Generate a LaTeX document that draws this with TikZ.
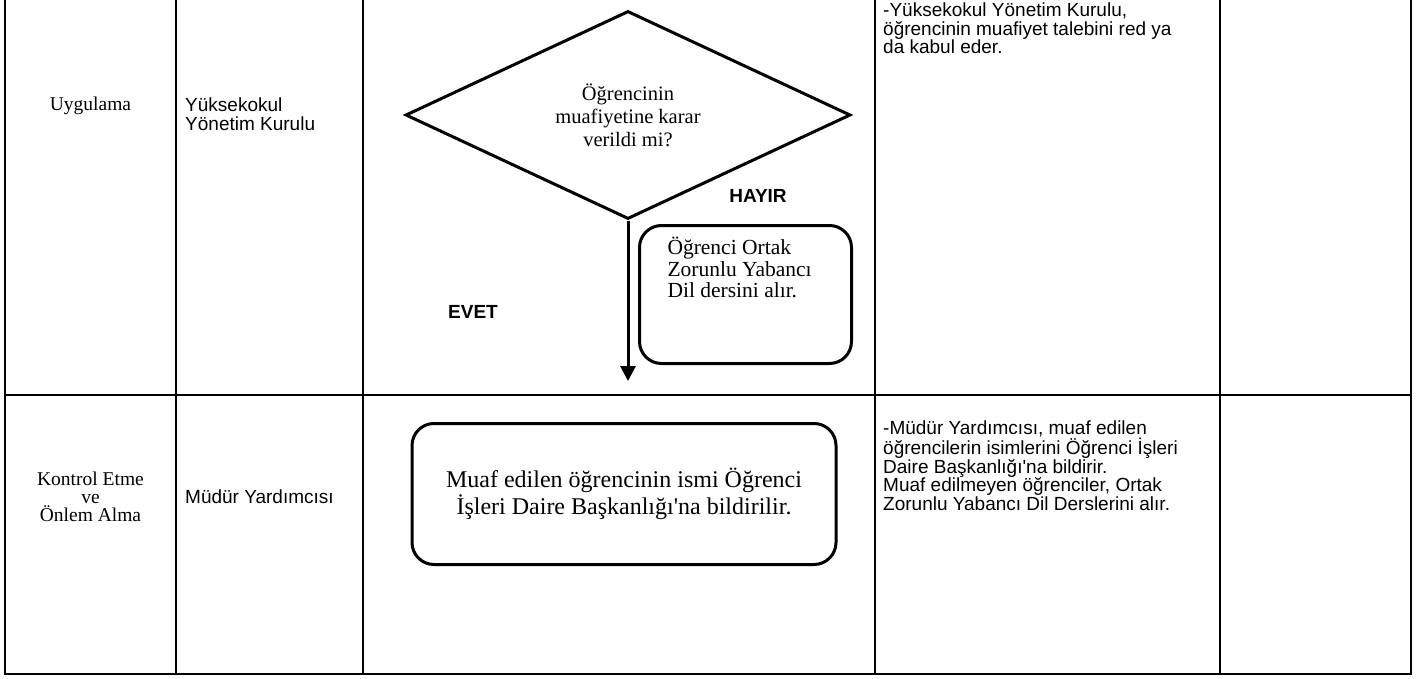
\documentclass[tikz,border=0pt]{standalone}
\usepackage{fontspec}
\setmainfont{Liberation Serif}[Ligatures=TeXOff]
\setsansfont{Liberation Sans}[Ligatures=TeXOff]
\usetikzlibrary{shapes.geometric,arrows.meta}

\tikzset{
  soru/.style={shape=diamond, draw, line width=3pt, minimum width=445pt, minimum height=200pt,
    inner sep=0pt, align=center, font=\fontsize{20.5}{23}\selectfont},
  islem/.style={shape=rectangle, draw, line width=3pt, rounded corners=22pt},
  hucre/.style={inner sep=0pt, align=left, font=\sffamily\fontsize{19}{18.5}\selectfont},
  asama/.style={inner sep=0pt, align=center, font=\fontsize{19.5}{18}\selectfont},
  etiket/.style={inner sep=0pt, font=\sffamily\bfseries\fontsize{19}{20}\selectfont},
  akis/.style={line width=3pt, -{Triangle[width=15pt,length=15pt]}},
}

\begin{document}
\begin{tikzpicture}[x=1pt, y=-1pt]
  \useasboundingbox (0,0) rectangle (1418,679);
  \draw[line width=2.5pt] (5,0) -- (5,674) -- (1411,674) -- (1411,0)
    (176,0) -- (176,674) (363,0) -- (363,674) (875,0) -- (875,674) (1220,0) -- (1220,674)
    (5,395) -- (1411,395);

  \node[asama] (uyg) at (90.5,106) {Uygulama};
  \node[hucre, anchor=west] (yko) at (185,114) {Yüksekokul\\Yönetim Kurulu};
  \node[soru] (karar) at (628,115) {Öğrencinin\\muafiyetine karar\\verildi mi?};
  \node[etiket] (hayir) at (758,196) {HAYIR};
  \node[islem, anchor=north west, inner xsep=28pt, inner ysep=12pt, font=\fontsize{21.5}{21.5}\selectfont]
    (ders) at (638,224) {\parbox[c][114pt][t]{156pt}{Öğrenci Ortak\\Zorunlu Yabancı\\Dil dersini alır.}};
  \node[etiket] (evet) at (473,312) {EVET};
  \coordinate (evetson) at (628,381);
  \draw[akis] (karar.south) -- (evetson);
  \node[hucre, anchor=north west] (yk) at (883,3)
    {-Yüksekokul Yönetim Kurulu,\\öğrencinin muafiyet talebini red ya\\da kabul eder.};

  \node[asama] (kontrol) at (90.5,497) {Kontrol Etme\\ve\\Önlem Alma};
  \node[hucre, anchor=west] (mudur) at (185,497) {Müdür Yardımcısı};
  \node[islem, minimum width=424pt, minimum height=141pt, align=center, font=\fontsize{24}{27}\selectfont]
    (bildir) at (624,494) {Muaf edilen öğrencinin ismi Öğrenci\\İşleri Daire Başkanlığı'na bildirilir.};
  \node[hucre, anchor=north west] (my) at (883,421)
    {-Müdür Yardımcısı, muaf edilen\\öğrencilerin isimlerini Öğrenci İşleri\\Daire Başkanlığı'na bildirir.\\Muaf edilmeyen öğrenciler, Ortak\\Zorunlu Yabancı Dil Derslerini alır.};
\end{tikzpicture}
\end{document}
